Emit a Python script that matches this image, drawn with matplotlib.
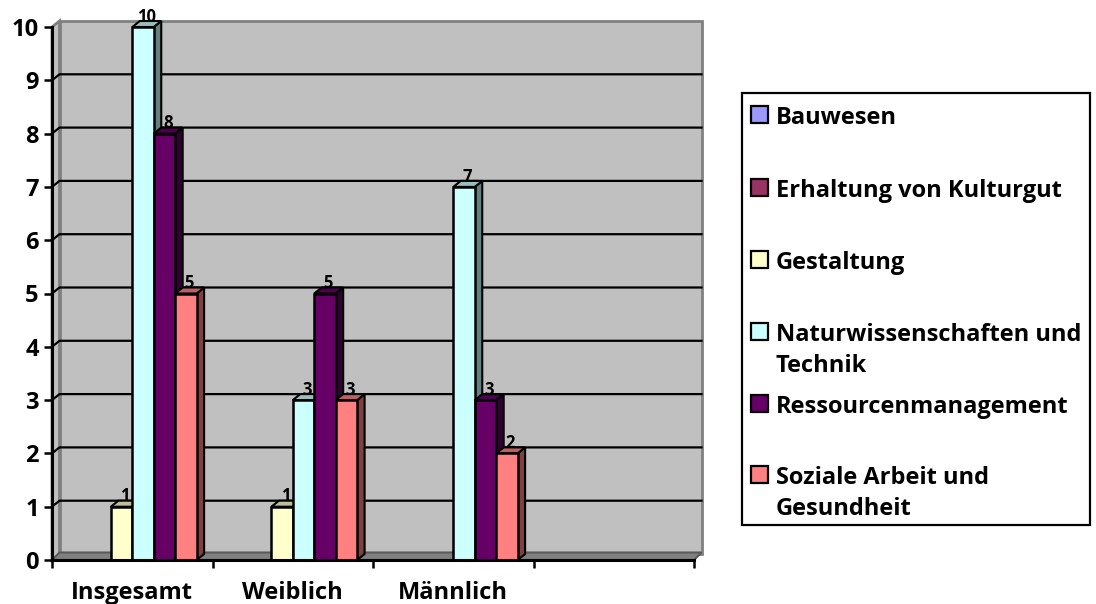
import matplotlib
matplotlib.use('Agg')
import matplotlib.pyplot as plt
from matplotlib.patches import Polygon, Rectangle
from matplotlib.colors import to_rgb

plt.rcParams['font.family'] = ['Open Sans', 'DejaVu Sans']

# dados
categorias = ['Insgesamt', 'Weiblich', 'Männlich', '']
series = ['Bauwesen', 'Erhaltung von Kulturgut', 'Gestaltung',
          'Naturwissenschaften und\nTechnik', 'Ressourcenmanagement',
          'Soziale Arbeit und\nGesundheit']
cores = ['#9999ff', '#993366', '#ffffcc', '#ccffff', '#660066', '#ff8080']
bauwesen = [0, 0, 0, 0]
erhaltung = [0, 0, 0, 0]
gestaltung = [1, 1, 0, 0]
natur = [10, 3, 7, 0]
ressourcen = [8, 5, 3, 0]
soziale = [5, 3, 2, 0]
valores = [bauwesen, erhaltung, gestaltung, natur, ressourcen, soziale]
y_ticks = list(range(11))

W, H = 1096, 604
fig = plt.figure(figsize=(W / 100, H / 100), dpi=100)
ax = fig.add_axes([52 / W, (H - 560) / H, 642 / W, 533 / H])
ax.set_xlim(0, 4)
ax.set_ylim(0, 10)
ax.patch.set_visible(False)

# profundidade do efeito 3D, convertida de pixels para dados
dx = 7.5 / (642 / 4)
dy = 6 / (533 / 10)
largura = 0.1335
margem = 0.1

# paredes e chao
ax.add_patch(Polygon([(0, 0), (dx, dy), (dx, 10 + dy), (0, 10)], fc='#c0c0c0', ec='#808080', lw=2, zorder=1, clip_on=False))
ax.add_patch(Polygon([(dx, dy), (4 + dx, dy), (4 + dx, 10 + dy), (dx, 10 + dy)], fc='#c0c0c0', ec='#808080', lw=2, zorder=1, clip_on=False))
ax.add_patch(Polygon([(0, 0), (4, 0), (4 + dx, dy * 1.25), (dx, dy * 1.25)], fc='#808080', ec='#5a5a5a', lw=1.5, zorder=2, clip_on=False))

# linhas de grade
for v in y_ticks[1:-1]:
    ax.plot([0, dx, 4 + dx], [v, v + dy, v + dy], color='black', lw=1.6, zorder=2, clip_on=False)

# barras
z = 3
for i in range(4):
    for j in range(6):
        v = valores[j][i]
        if v == 0:
            continue
        x0 = i + margem + j * largura
        x1 = x0 + largura
        r, g, b = to_rgb(cores[j])
        ax.add_patch(Polygon([(x1, 0), (x1 + dx, dy), (x1 + dx, v + dy), (x1, v)],
                             fc=(r * 0.5, g * 0.5, b * 0.5), ec='black', lw=1.5, zorder=z, clip_on=False))
        ax.add_patch(Polygon([(x0, v), (x0 + dx, v + dy), (x1 + dx, v + dy), (x1, v)],
                             fc=(r * 0.75, g * 0.75, b * 0.75), ec='black', lw=1.5, zorder=z, clip_on=False))
        ax.bar(x0, v, width=largura, align='edge', color=cores[j], edgecolor='black', linewidth=1.8, zorder=z + 1, clip_on=False)
        z += 2

# rotulos de dados por cima de tudo
for i in range(4):
    for j in range(6):
        v = valores[j][i]
        if v == 0:
            continue
        x0 = i + margem + j * largura
        ax.annotate(str(v), (x0 + largura / 2 + dx * 0.45, v + dy), xytext=(0, -0.5), textcoords='offset points',
                    ha='center', va='baseline', fontsize=12, fontweight='bold', color='black', zorder=100, annotation_clip=False)

# eixos
for lado in ['top', 'right']:
    ax.spines[lado].set_visible(False)
for lado in ['left', 'bottom']:
    ax.spines[lado].set_linewidth(2.2)
    ax.spines[lado].set_zorder(90)
ax.set_yticks(y_ticks)
ax.set_xticks(range(5))
ax.set_xticklabels([])
ax.tick_params(axis='both', length=5.5, width=1.8, color='black')
ax.tick_params(axis='y', labelsize=17, pad=4)
for lab in ax.get_yticklabels():
    lab.set_fontweight('bold')
for i, nome in enumerate(categorias):
    if nome:
        ax.annotate(nome, (i + 0.5, 0), xytext=(0, -28), textcoords='offset points', ha='center', va='baseline',
                    fontsize=17, fontweight='bold', annotation_clip=False)

# legenda desenhada em coordenadas de pixel
leg = fig.add_axes([0, 0, 1, 1])
leg.set_xlim(0, W)
leg.set_ylim(H, 0)
leg.axis('off')
leg.patch.set_visible(False)
leg.add_patch(Rectangle((742, 93), 348, 432, fc='white', ec='black', lw=1.6))
pos_y = [115, 188, 260, 332, 404, 475]
for nome, cor, y in zip(series, cores, pos_y):
    leg.add_patch(Rectangle((751, y - 9), 17, 17, fc=cor, ec='black', lw=1.6))
    for k, linha in enumerate(nome.split('\n')):
        leg.text(776, y + 9 + k * 31, linha, ha='left', va='baseline', fontsize=17, fontweight='bold')

fig.savefig('out.png', dpi=100)
